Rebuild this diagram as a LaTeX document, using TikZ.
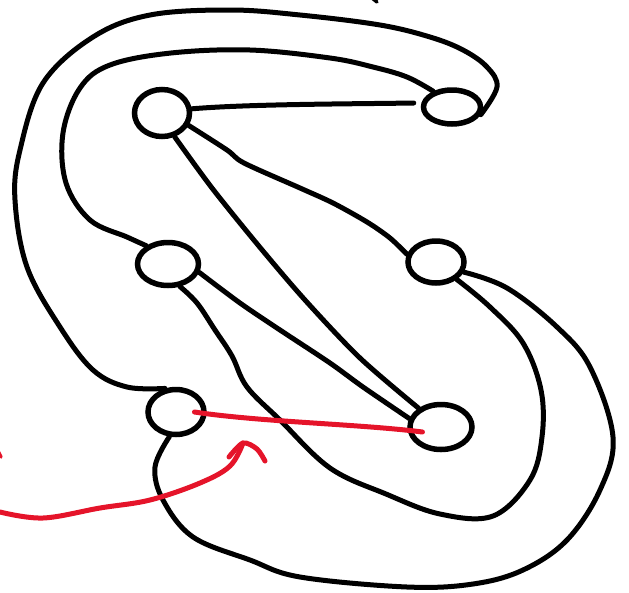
\documentclass[tikz,border=0pt]{standalone}
\usetikzlibrary{shapes.geometric,calc}
\definecolor{redink}{RGB}{229,20,42}
\begin{document}
\begin{tikzpicture}[x=1pt,y=-1pt,
  vtx/.style={draw, ellipse, line width=5.5pt, inner sep=0pt},
  edge/.style={line width=5pt, line cap=round, line join=round},
  rededge/.style={draw=redink, line width=5pt, line cap=round, line join=round}]
\useasboundingbox (0,0) rectangle (629,592);

% vertices
\node[vtx, minimum width=55pt, minimum height=47pt] (A) at (162,113) {};
\node[vtx, minimum width=57pt, minimum height=34pt] (B) at (452,107) {};
\node[vtx, minimum width=61pt, minimum height=43pt] (C) at (168,264) {};
\node[vtx, minimum width=56pt, minimum height=42pt] (D) at (436,262) {};
\node[vtx, minimum width=56pt, minimum height=45pt] (E) at (176,412) {};
\node[vtx, minimum width=62pt, minimum height=45pt] (F) at (441,427) {};

% A -- B
\draw[edge] (A.8) .. controls (250,104) and (350,104) .. ($(B.west)+(-7,-4)$);

% B -- E (outer loop round the top and left)
\draw[edge] plot[smooth, tension=0.6] coordinates {(B.-15) (497,87) (487,67) (463,50) (430,37) (380,25) (300,15) (230,10) (150,15) (93,37) (43,83) (20,150) (15,200) (27,267) (60,327) (93,370) (127,387) (E.115)};

% B -- C (inner loop round the top)
\draw[edge] plot[smooth, tension=0.6] coordinates {(B.140) (407,77) (373,67) (330,58) (250,50) (171,53) (110,65) (80,88) (63,133) (66,183) (90,220) (127,237) (C.140)};

% A -- F
\draw[edge] plot[smooth] coordinates {(A.-62) (212,188) (258,245) (305,300) (360,358) (F.140)};

% A -- D
\draw[edge] plot[smooth] coordinates {(A.-25) (227,150) (244,163) (300,188) (333,203) (367,222) (390,238) (D.165)};

% C -- F
\draw[edge] plot[smooth] coordinates {(C.-15) (240,303) (280,330) (330,363) (363,387) (F.165)};

% C -- D (inner loop round the bottom right)
\draw[edge] plot[smooth, tension=0.6] coordinates {(C.-62) (197,303) (215,330) (232,356) (247,387) (280,420) (330,468) (386,494) (440,514) (493,516) (530,480) (542,437) (541,390) (523,343) (490,307) (D.-40)};

% D -- E (outer loop round the bottom right)
\draw[edge] plot[smooth, tension=0.6] coordinates {(D.-20) (507,288) (557,327) (590,367) (613,437) (600,490) (567,540) (523,570) (473,584) (407,587) (300,577) (250,560) (193,537) (163,500) (155,467) (E.-105)};

% small stroke at the top
\draw[edge, line width=3.5pt] (372,-2) -- (377,2);

% E -- F in red
\draw[rededge] ($(E.center)!0.6!(E.east)$) .. controls (260,422) and (360,424) .. ($(F.center)!0.55!(F.west)+(0,5)$);

% red pointer
\coordinate (tip) at (243,443);
\draw[rededge] plot[smooth, tension=0.6] coordinates {(0,512) (43,518) (100,508) (150,500) (200,483) (230,466) (tip)};
\draw[rededge] plot[smooth, tension=0.5] coordinates {(229,457) (tip) (257,449) (265,461)};
\draw[rededge, line width=3.5pt] (-2,451) -- (1,457);
\end{tikzpicture}
\end{document}
